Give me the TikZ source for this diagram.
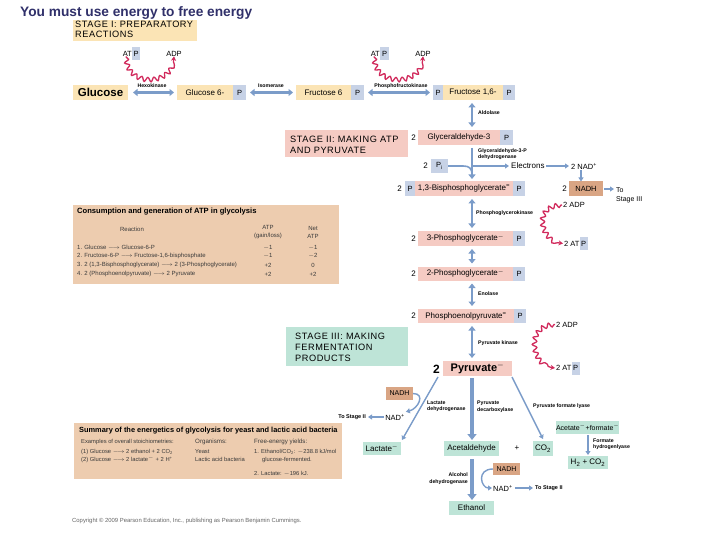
\documentclass[tikz,border=0pt]{standalone}
\usepackage{fontspec}
\setmainfont{Liberation Sans}
\newfontfamily\stagefont[LetterSpace=6]{Liberation Sans}
\usetikzlibrary{arrows.meta,decorations.pathmorphing}
\definecolor{yel}{HTML}{FBE4B5}
\definecolor{pk}{HTML}{F5CBC3}
\definecolor{bl}{HTML}{C7D2E6}
\definecolor{tl}{HTML}{BEE4D7}
\definecolor{nad}{HTML}{D9A584}
\definecolor{tab}{HTML}{EDCCAF}
\definecolor{arrb}{HTML}{7B9CC9}
\definecolor{wr}{HTML}{D12A5C}
\definecolor{ttl}{HTML}{30306A}
\definecolor{tabtxt}{HTML}{3A3A3A}
\newcommand\myfs[1]{\fontsize{#1}{#1}\selectfont}
\newcommand\myfsl[2]{\fontsize{#1}{#2}\selectfont}
\begin{document}
\begin{tikzpicture}[x=1pt,y=-1pt,
  bx/.style={inner sep=0pt, outer sep=0pt, anchor=west, minimum height=15pt, font=\myfs{8}},
  ybox/.style={bx, fill=yel},
  pkbox/.style={bx, fill=pk},
  pbox/.style={bx, fill=bl, minimum width=12pt, font=\myfs{7.5}},
  tbox/.style={bx, fill=tl},
  nbox/.style={bx, fill=nad},
  txt/.style={inner sep=0pt, font=\myfs{7.5}},
  lab/.style={inner sep=0pt, anchor=west, font=\bfseries\myfs{5.2}},
  num/.style={inner sep=0pt, anchor=east, font=\myfs{8}},
  stg/.style={inner sep=0pt, anchor=west, align=left},
  tt/.style={inner sep=0pt, anchor=west, text=tabtxt, font=\myfs{6}},
  darr/.style={draw=arrb, line width=2.2pt, {Triangle[length=4.5pt,width=7pt]}-{Triangle[length=4.5pt,width=7pt]}, shorten <=3pt, shorten >=3pt},
  sarr/.style={draw=arrb, line width=1.4pt, -{Triangle[length=4pt,width=5pt]}},
  tarr/.style={draw=arrb, line width=3.5pt, -{Triangle[length=6pt,width=9pt]}},
  wav/.style={draw=wr, line width=1.3pt, decorate, decoration={snake,amplitude=2.2pt,segment length=6.5pt,pre length=1pt,post length=4pt}, -{Stealth[length=4.5pt,width=5pt]}}
]
\useasboundingbox[fill=white] (0,0) rectangle (720,540);
\coordinate (ax) at (472,0);

% title
\node[anchor=west, inner sep=0pt, font=\bfseries\myfs{13.7}, text=ttl] (title) at (20,12.5) {You must use energy to free energy};

% Stage I
\node[fill=yel, inner sep=0pt, anchor=north west, minimum width=124pt, minimum height=21pt] (s1) at (73,20) {};
\node[stg, font=\stagefont\myfsl{9.2}{10}] (s1t) at (75,29.5) {STAGE I: PREPARATORY\\REACTIONS};

% top row
\node[ybox, minimum width=55pt, font=\bfseries\myfs{11.5}] (glc) at (73,92.5) {Glucose};
\node[ybox, minimum width=56pt] (g6) at (177,92.5) {Glucose 6-};
\node[pbox, minimum width=13pt] (g6p) at (g6.east) {P};
\node[ybox, minimum width=55pt] (f6) at (296,92.5) {Fructose 6};
\node[pbox, minimum width=13pt] (f6p) at (f6.east) {P};
\node[pbox, minimum width=10pt] (f16a) at (433,92.5) {P};
\node[ybox, minimum width=60pt] (f16) at (f16a.east) {Fructose 1,6-};
\node[pbox, minimum width=12pt] (f16b) at (f16.east) {P};

\draw[darr, shorten <=5pt] (glc) -- (g6);
\draw[darr, shorten <=4pt] (g6p) -- (f6);
\draw[darr, shorten <=4pt] (f6p) -- (f16a);
\node[lab, anchor=center] (lhex) at (152,86) {Hexokinase};
\node[lab, anchor=center] (liso) at (271,86) {Isomerase};
\node[lab, anchor=center] (lpfk) at (401,86) {Phosphofructokinase};

% ATP/ADP top
\node[txt, anchor=east] (atp1) at (132,53.5) {AT};
\node[pbox, minimum width=8pt, minimum height=13pt] (atp1p) at (atp1.east) {P};
\node[txt] (adp1) at (174,53.5) {ADP};
\draw[wav] ([xshift=-1pt]atp1.south) .. controls +(0,30) and +(0,28) .. (adp1.south);
\node[txt, anchor=east] (atp2) at (380,53.5) {AT};
\node[pbox, minimum width=9pt, minimum height=13pt] (atp2p) at (atp2.east) {P};
\node[txt] (adp2) at (423,53.5) {ADP};
\draw[wav] ([xshift=-1pt]atp2.south) .. controls +(0,30) and +(0,28) .. (adp2.south);

% Stage II
\node[fill=pk, inner sep=0pt, anchor=north west, minimum width=123pt, minimum height=27pt] (s2) at (285,130) {};
\node[stg, font=\stagefont\myfsl{9.2}{11.5}] (s2t) at (290,145) {STAGE II: MAKING ATP\\AND PYRUVATE};

% Glyceraldehyde-3-P
\node[pkbox, minimum width=82pt] (gly) at (418,137.5) {Glyceraldehyde-3};
\node[pbox, minimum width=13pt] (glyp) at (gly.east) {P};
\node[num] (n1) at (416,137.5) {2};
\draw[darr] (f16.south -| ax) -- (gly.north -| ax);
\node[lab] (lald) at (478,113) {Aldolase};

% 1,3-BPG
\node[pbox, minimum width=10pt] (bpga) at (405,188.5) {P};
\node[pkbox, minimum width=98pt] (bpg) at (bpga.east) {1,3-Bisphosphoglycerate\textsuperscript{=}};
\node[pbox, minimum width=12pt] (bpgb) at (bpg.east) {P};
\node[num] (n2) at (402,188.5) {2};

% Pi and electrons
\node[num] (n3) at (428,166) {2};
\node[pbox, minimum width=17pt, minimum height=14pt] (pi) at (431,166) {P\textsubscript{i}};
\coordinate (pij) at (472,175);
\draw[draw=arrb, line width=2.2pt, -{Triangle[length=4.5pt,width=7pt]}, shorten <=3pt, shorten >=2pt] (gly.south -| ax) -- (bpg.north -| ax);
\draw[draw=arrb, line width=1.6pt] (pi.east) -- (463,166) .. controls (469,166) and (472,168) .. (pij);
\node[txt, anchor=west, font=\myfs{8}] (el) at (511,166) {Electrons};
\draw[sarr, shorten >=2pt] (pi.east -| ax) -- (el.west);
\node[lab, align=left, font=\bfseries\myfsl{5.2}{6.5}] (lgap) at (478,154) {Glyceraldehyde-3-P\\dehydrogenase};
\node[txt, anchor=west] (nad1) at (571,166) {2 NAD\textsuperscript{+}};
\draw[sarr, shorten <=1.5pt, shorten >=2pt] (el) -- (nad1);
\node[num] (n4) at (567,189) {2};
\node[nbox, minimum width=34pt, minimum height=15pt, font=\myfs{7.5}] (nadh1) at (569,189) {NADH};
\draw[sarr, line width=1.2pt, shorten <=1pt] ([xshift=-5pt]nadh1.north |- nad1.south) -- ([xshift=-5pt]nadh1.north);
\node[txt, anchor=west, align=left, font=\myfsl{7}{9}] (ts3) at (616,195.5) {To\\Stage III};
\draw[sarr, shorten <=1pt, shorten >=2pt] (nadh1.east) -- (nadh1.east -| ts3.west);

% 3PG
\node[num] (n5) at (416,238.5) {2};
\node[pkbox, minimum width=95pt] (pg3) at (418,238.5) {3-Phosphoglycerate\textsuperscript{$-$}};
\node[pbox, minimum width=12pt] (pg3p) at (pg3.east) {P};
\draw[darr] (bpg.south -| ax) -- (pg3.north -| ax);
\node[lab] (lpgk) at (476,213) {Phosphoglycerokinase};
\node[txt, anchor=west] (adp3) at (563,205) {2 ADP};
\node[txt, anchor=west] (atp3) at (564,243.5) {2 AT};
\node[pbox, minimum width=8pt, minimum height=13pt] (atp3p) at (atp3.east) {P};
\draw[wav] ([xshift=-1pt]adp3.west) .. controls +(-30,2) and +(-18,0) .. ([xshift=-1pt]atp3.west);

% 2PG
\node[num] (n6) at (416,273.5) {2};
\node[pkbox, minimum width=95pt, minimum height=14pt] (pg2) at (418,273.5) {2-Phosphoglycerate\textsuperscript{$-$}};
\node[pbox, minimum width=12pt, minimum height=14pt] (pg2p) at (pg2.east) {P};
\draw[darr] (pg3.south -| ax) -- (pg2.north -| ax);

% PEP
\node[num] (n7) at (416,316) {2};
\node[pkbox, minimum width=96pt, minimum height=14pt] (pep) at (418,316) {Phosphoenolpyruvate\textsuperscript{=}};
\node[pbox, minimum width=12pt, minimum height=14pt] (pepp) at (pep.east) {P};
\draw[darr] (pg2.south -| ax) -- (pep.north -| ax);
\node[lab] (leno) at (478,294) {Enolase};

% Pyruvate
\node[num, font=\bfseries\myfs{12}] (n8) at (440,369) {2};
\node[pkbox, minimum width=69pt, minimum height=15pt, font=\bfseries\myfs{11}] (pyr) at (443,368.5) {Pyruvate\textsuperscript{$-$}};
\draw[darr] (pep.south -| ax) -- (pyr.north -| ax);
\node[lab] (lpk) at (478,343) {Pyruvate kinase};
\node[txt, anchor=west] (adp4) at (556,324.5) {2 ADP};
\node[txt, anchor=west] (atp4) at (556,368) {2 AT};
\node[pbox, minimum width=8pt, minimum height=13pt] (atp4p) at (atp4.east) {P};
\draw[wav] ([xshift=-1pt]adp4.west) .. controls +(-30,2) and +(-20,0) .. ([xshift=-1pt]atp4.west);

% Stage III
\node[fill=tl, inner sep=0pt, anchor=north west, minimum width=122pt, minimum height=39pt] (s3) at (286,327) {};
\node[stg, font=\stagefont\myfsl{9.2}{10.8}] (s3t) at (295,347.5) {STAGE III: MAKING\\FERMENTATION\\PRODUCTS};

% consumption table
\node[fill=tab, inner sep=0pt, anchor=north west, minimum width=266pt, minimum height=79pt] (tab1) at (73,205) {};
\node[tt, font=\bfseries\myfs{7.6}, text=black] (tab1t) at (77,211.5) {Consumption and generation of ATP in glycolysis};
\node[tt, anchor=center] (th1) at (132,229) {Reaction};
\node[tt, anchor=center, align=center, font=\myfsl{6}{8}] (th2) at (268,232) {ATP\\(gain/loss)};
\node[tt, anchor=center, align=center, font=\myfsl{6}{8}] (th3) at (313,232) {Net\\ATP};
\node[tt] (r1) at (77,247.5) {1. Glucose $\longrightarrow$ Glucose-6-P};
\node[tt] (r2) at (77,256) {2. Fructose-6-P $\longrightarrow$ Fructose-1,6-bisphosphate};
\node[tt] (r3) at (77,265) {3. 2 (1,3-Bisphosphoglycerate) $\longrightarrow$ 2 (3-Phosphoglycerate)};
\node[tt] (r4) at (77,274) {4. 2 (Phosphoenolpyruvate) $\longrightarrow$ 2 Pyruvate};
\node[tt, anchor=center] (a1) at (268,247.5) {$-$1};
\node[tt, anchor=center] (a2) at (268,256) {$-$1};
\node[tt, anchor=center] (a3) at (268,265) {+2};
\node[tt, anchor=center] (a4) at (268,274) {+2};
\node[tt, anchor=center] (b1) at (313,247.5) {$-$1};
\node[tt, anchor=center] (b2) at (313,256) {$-$2};
\node[tt, anchor=center] (b3) at (313,265) {0};
\node[tt, anchor=center] (b4) at (313,274) {+2};

% lower branch: lactate
\node[nbox, minimum width=27pt, minimum height=13pt, font=\myfs{7}] (nadh2) at (386,393.5) {NADH};
\node[txt] (nad2) at (395,417) {NAD\textsuperscript{+}};
\node[txt, anchor=east, font=\bfseries\myfs{5.5}] (ts2a) at (366,417) {To Stage II};
\draw[sarr, shorten <=1pt, shorten >=2pt] (nad2) -- (ts2a);
\node[tbox, minimum width=38pt, minimum height=13pt] (lac) at (363,448.5) {Lactate\textsuperscript{$-$}};
\node[tbox, minimum width=55pt, minimum height=15pt] (acet) at (444,448.5) {Acetaldehyde};
\node[txt, font=\myfs{8}] (plus) at (517,448) {+};
\node[tbox, minimum width=20pt, minimum height=15pt] (co2) at (533,448.5) {CO\textsubscript{2}};
\draw[sarr] ([shift={(-5,1)}]pyr.south west) -- ([shift={(1,-2)}]lac.north east);
\draw[draw=arrb, line width=1.4pt, -{Triangle[length=4pt,width=5pt]}] (nadh2.east) .. controls +(13,0) and +(12,-3) .. ([shift={(1,-2)}]nad2.north east);
\draw[sarr] ([shift={(0,1)}]pyr.south east) -- ([shift={(0,-2)}]co2.north);
\draw[tarr, shorten <=2pt, shorten >=1pt] (pyr.south -| ax) -- (acet.north -| ax);
\node[lab, align=left, font=\bfseries\myfsl{5.2}{6.5}] (lldh) at (427,406.5) {Lactate\\dehydrogenase};
\node[lab, align=left, font=\bfseries\myfsl{5.2}{6.5}] (lpdc) at (477,406.5) {Pyruvate\\decarboxylase};
\node[lab] (lpfl) at (533,406) {Pyruvate formate lyase};

% formate
\node[tbox, minimum width=59pt, minimum height=13pt, font=\myfs{7}] (acfo) at (556,427.5) {Acetate\textsuperscript{$-$}+formate\textsuperscript{$-$}};
\node[tbox, minimum width=40pt, minimum height=13pt] (h2) at (568,462.5) {H\textsubscript{2} + CO\textsubscript{2}};
\draw[sarr, shorten <=1pt, shorten >=1pt] (acfo.south -| h2.north) -- (h2.north);
\node[lab, align=left, font=\bfseries\myfsl{5.2}{6.5}] (lfhl) at (593,444.5) {Formate\\hydrogenlyase};

% ethanol
\node[tbox, minimum width=45pt, minimum height=14pt] (eth) at (449,508) {Ethanol};
\draw[tarr, shorten <=3pt, shorten >=1pt] (acet.south -| ax) -- (eth.north -| ax);
\node[nbox, minimum width=27pt, minimum height=12pt, font=\myfs{7}] (nadh3) at (493,469) {NADH};
\node[txt, anchor=west] (nad3) at (493,488) {NAD\textsuperscript{+}};
\draw[draw=arrb, line width=1.4pt, -{Triangle[length=4pt,width=5pt]}] (nadh3.west) .. controls +(-17,0) and +(-11,0) .. ([xshift=-1pt]nad3.west);
\node[txt, anchor=west, font=\bfseries\myfs{5.5}] (ts2b) at (535,488) {To Stage II};
\draw[sarr, shorten <=2pt, shorten >=2pt] (nad3) -- (ts2b);
\node[lab, anchor=east, align=right, font=\bfseries\myfsl{5.2}{6.5}] (ladh) at (468,478.5) {Alcohol\\dehydrogenase};

% summary table
\node[fill=tab, inner sep=0pt, anchor=north west, minimum width=268pt, minimum height=56pt] (tab2) at (74,423) {};
\node[tt, font=\bfseries\myfs{7.4}, text=black] (tab2t) at (79,430.5) {Summary of the energetics of glycolysis for yeast and lactic acid bacteria};
\node[tt, font=\myfs{5.8}] (s11) at (81,442) {Examples of overall stoichiometries:};
\node[tt, font=\myfs{6.2}] (s12) at (195,442) {Organisms:};
\node[tt, font=\myfs{6.2}] (s13) at (254,442) {Free-energy yields:};
\node[tt, font=\myfs{5.8}] (s21) at (81,452) {(1) Glucose $\longrightarrow$ 2 ethanol + 2 CO\textsubscript{2}};
\node[tt, font=\myfs{5.8}] (s22) at (195,452) {Yeast};
\node[tt, font=\myfs{5.8}] (s23) at (254,452) {1. Ethanol/CO\textsubscript{2}: $-$238.8 kJ/mol};
\node[tt, font=\myfs{5.8}] (s31) at (81,459.5) {(2) Glucose $\longrightarrow$ 2 lactate\textsuperscript{$-$} + 2 H\textsuperscript{+}};
\node[tt, font=\myfs{5.8}] (s32) at (195,459.5) {Lactic acid bacteria};
\node[tt, font=\myfs{5.8}] (s33) at (262,459.5) {glucose-fermented.};
\node[tt, font=\myfs{5.8}] (s43) at (254,474) {2. Lactate: $-$196 kJ.};

% copyright
\node[inner sep=0pt, anchor=west, font=\myfs{5.9}, text=black!60] (copy) at (72,521) {Copyright \textcopyright{} 2009 Pearson Education, Inc., publishing as Pearson Benjamin Cummings.};
\end{tikzpicture}
\end{document}
